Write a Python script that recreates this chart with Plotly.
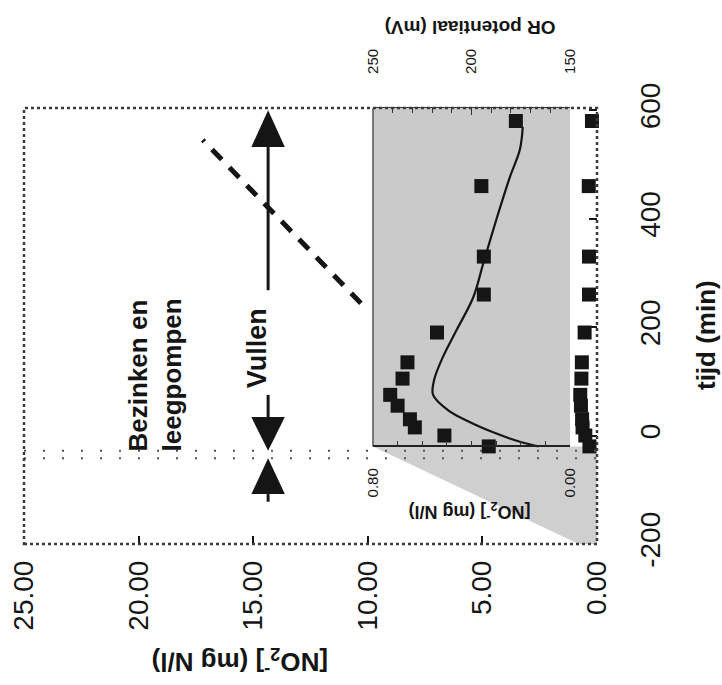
import plotly.graph_objects as go

# ---------------- data ----------------
time_min = [-20, 0, 15, 30, 55, 75, 105, 135, 190, 260, 330, 460, 580]
no2_mgl = [0.33, 0.51, 0.63, 0.65, 0.70, 0.73, 0.68, 0.66, 0.54, 0.35, 0.35, 0.36, 0.22]

or_time = [-20, -12, 6, 25, 47, 75, 102, 145, 195, 256, 318, 403, 477, 527, 569]
or_mv = [166, 175, 189, 201, 212, 219.5, 219, 214.5, 207.5, 199, 194, 187, 180.5, 175.5, 174]

dash_time = [244, 545]
dash_no2 = [10.3, 17.2]

no2_ticks = [0, 5, 10, 15, 20, 25]
time_ticks = [-200, 0, 200, 400, 600]
time_ticktext = ["-200", "0", "200", "400", "600"]
or_ticks = [150, 200, 250]
inset_no2_ticks = [0.0, 0.8]

phase_lines = [-42, -28]          # dotted phase boundaries (min)
vullen_arrow = [-28, 600]         # time span of "Vullen"
bezinken_arrow = [-122, -42]      # arrow towards end of "Bezinken en leegpompen"

# ---------------- layout geometry ----------------
W, H = 722, 685
L, R, T, B = 24, 125, 108, 141
Y_RANGE = [-200, 604]
X_RANGE = [25, 0]
INSET_X = [0.609, 0.953]
INSET_T0 = -20
inset_y0 = (INSET_T0 - Y_RANGE[0]) / (Y_RANGE[1] - Y_RANGE[0])

FONT = "Liberation Sans, Arial, Helvetica, sans-serif"
INK = "#151515"

fig = go.Figure()

# main dashed series
fig.add_trace(go.Scatter(
    x=dash_no2, y=dash_time, mode="lines", xaxis="x", yaxis="y",
    line=dict(color=INK, width=5, dash="14px,11px"), showlegend=False))
# main NO2 markers
fig.add_trace(go.Scatter(
    x=no2_mgl, y=time_min, mode="markers", xaxis="x", yaxis="y", cliponaxis=False,
    marker=dict(symbol="square", size=14, color=INK), showlegend=False))
# inset OR potential curve
fig.add_trace(go.Scatter(
    x=or_mv, y=or_time, mode="lines", xaxis="x2", yaxis="y",
    line=dict(color=INK, width=2.2, shape="spline", smoothing=1.0), showlegend=False))
# inset NO2 markers (expanded scale)
fig.add_trace(go.Scatter(
    x=no2_mgl, y=time_min, mode="markers", xaxis="x3", yaxis="y", cliponaxis=False,
    marker=dict(symbol="square", size=14, color=INK), showlegend=False))

shapes = []
GRAY = "#cacaca"
# wedge from inset bottom to main axis
left_no2 = X_RANGE[0] * (1 - INSET_X[0])
shapes.append(dict(type="path", xref="x", yref="y", layer="below",
                   path=f"M {left_no2},{INSET_T0} L 0,{INSET_T0} L 0,{Y_RANGE[0]} L 0.8,{Y_RANGE[0]} Z",
                   fillcolor="#cfcfcf", line=dict(width=0)))
# inset background
shapes.append(dict(type="rect", xref="paper", yref="paper", layer="below",
                   x0=INSET_X[0], x1=INSET_X[1], y0=inset_y0, y1=1,
                   fillcolor=GRAY, line=dict(width=0)))
# inset left edge
shapes.append(dict(type="line", xref="paper", yref="paper",
                   x0=INSET_X[0], x1=INSET_X[0], y0=inset_y0, y1=1,
                   line=dict(color="#333", width=1.2)))
# dotted phase lines
for t in phase_lines:
    shapes.append(dict(type="line", xref="paper", yref="y", x0=0, x1=1, y0=t, y1=t,
                       line=dict(color="#555", width=2, dash="2px,17px")))

# arrows
AX = 14.35
HW = 0.73
shapes += [
    dict(type="path", xref="x", yref="y", path=f"M {AX},{vullen_arrow[1]} L {AX-HW},532 L {AX+HW},532 Z",
         fillcolor=INK, line=dict(width=0)),
    dict(type="line", xref="x", yref="y", x0=AX, x1=AX, y0=532, y1=268, line=dict(color=INK, width=3)),
    dict(type="line", xref="x", yref="y", x0=AX, x1=AX, y0=75, y1=34, line=dict(color=INK, width=3)),
    dict(type="path", xref="x", yref="y", path=f"M {AX},{vullen_arrow[0]} L {AX-HW},34 L {AX+HW},34 Z",
         fillcolor=INK, line=dict(width=0)),
    dict(type="path", xref="x", yref="y", path=f"M {AX},{bezinken_arrow[1]} L {AX-HW},-108 L {AX+HW},-108 Z",
         fillcolor=INK, line=dict(width=0)),
    dict(type="line", xref="x", yref="y", x0=AX, x1=AX, y0=-108, y1=bezinken_arrow[0],
         line=dict(color=INK, width=3)),
]
# main dotted frame
shapes.append(dict(type="rect", xref="paper", yref="paper", x0=0, x1=1, y0=0, y1=1,
                   line=dict(color="#3a3a3a", width=2.5, dash="dot"), layer="above"))


def ann(text, x, y, angle, size, xref="paper", yref="paper", **kw):
    return dict(text=text, xref=xref, yref=yref, x=x, y=y, textangle=angle,
                xanchor="center", yanchor="middle", showarrow=False,
                font=dict(size=size, color=INK, family=FONT), **kw)


annotations = [
    ann("<b>tijd (min)</b>", 1.19, 0.479, -90, 26),
    ann("<b>[NO<sub>2</sub><sup>-</sup>] (mg N/l)</b>", 0.377, -0.271, 180, 26),
    ann("<b>OR potentiaal (mV)</b>", 0.778, 1.183, 180, 19),
    ann("<b>[NO<sub>2</sub><sup>-</sup>] (mg N/l)</b>", 0.778, 0.073, 180, 18),
    ann("<b>Vullen</b>", 14.83, 161, -90, 27, xref="x", yref="y"),
    ann("<b>Bezinken en<br>leegpompen</b>", 19.28, 111, -90, 26, xref="x", yref="y", align="left"),
]

fig.update_layout(
    width=W, height=H, margin=dict(l=L, r=R, t=T, b=B, autoexpand=False),
    paper_bgcolor="white", plot_bgcolor="rgba(0,0,0,0)",
    font=dict(family=FONT, color=INK),
    shapes=shapes, annotations=annotations, showlegend=False,
    xaxis=dict(range=X_RANGE, domain=[0, 1], anchor="y", side="bottom",
               tickmode="array", tickvals=no2_ticks, tickformat=".2f", tickangle=-90,
               ticks="inside", ticklen=8, tickwidth=1.5, tickcolor=INK,
               ticklabelstandoff=10, tickfont=dict(size=28, family=FONT, color=INK),
               showgrid=False, zeroline=False, showline=False),
    yaxis=dict(range=Y_RANGE, domain=[0, 1], anchor="x", side="right",
               tickmode="array", tickvals=time_ticks, ticktext=time_ticktext, tickangle=-90,
               ticks="inside", ticklen=8, tickwidth=1.5, tickcolor=INK,
               ticklabelstandoff=34, tickfont=dict(size=28, family=FONT, color=INK),
               showgrid=False, zeroline=False, showline=False),
    xaxis2=dict(range=[250, 150], domain=INSET_X, anchor="y", side="top",
                tickmode="array", tickvals=or_ticks, tickangle=-90,
                ticks="inside", ticklen=7, tickwidth=1.2, tickcolor="#333",
                minor=dict(tickmode="linear", tick0=150, dtick=10, ticks="inside", ticklen=5,
                           tickwidth=1, tickcolor="#333"),
                ticklabelstandoff=30, tickfont=dict(size=15, family=FONT, color=INK),
                showline=True, linecolor="#333", linewidth=1.2,
                showgrid=False, zeroline=False),
    xaxis3=dict(range=[0.8, 0], domain=INSET_X, anchor="free", position=inset_y0, side="bottom",
                tickmode="array", tickvals=inset_no2_ticks, tickformat=".2f", tickangle=-90,
                ticks="inside", ticklen=7, tickwidth=1.2, tickcolor="#333",
                minor=dict(tickmode="linear", tick0=0, dtick=0.1, ticks="inside", ticklen=5,
                           tickwidth=1, tickcolor="#333"),
                ticklabelstandoff=15, tickfont=dict(size=15, family=FONT, color=INK),
                showline=True, linecolor="#222", linewidth=1.6,
                showgrid=False, zeroline=False),
)

fig.write_html("out.html")
